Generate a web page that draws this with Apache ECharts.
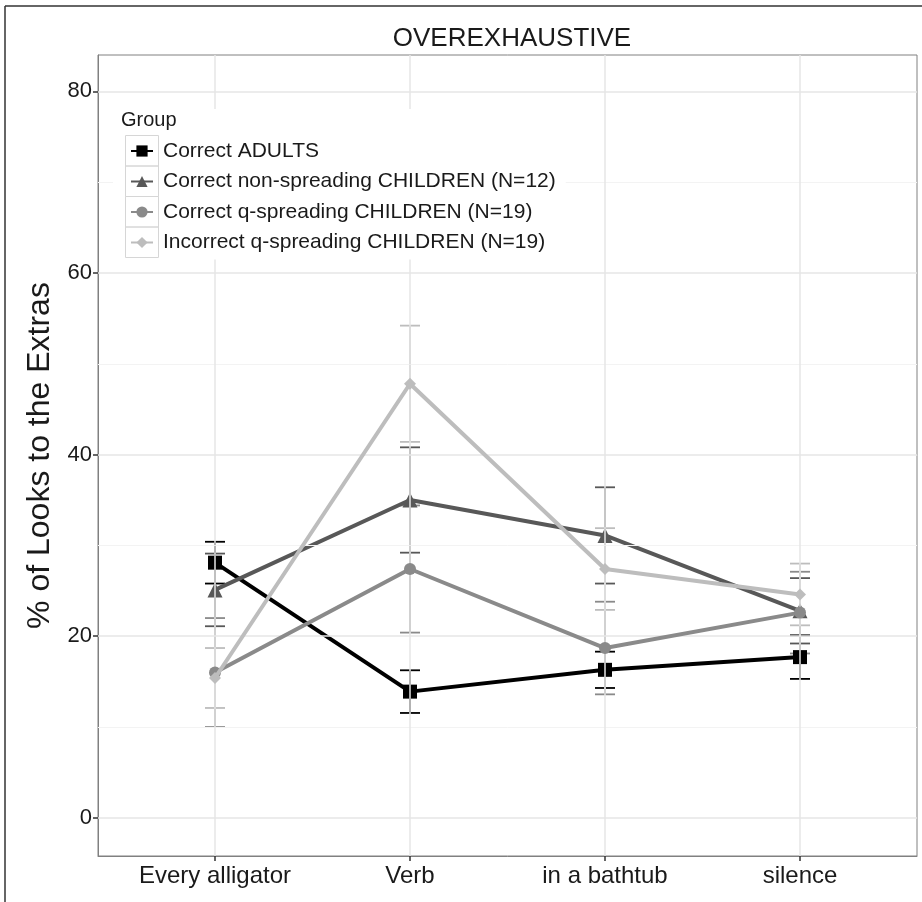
<!DOCTYPE html>
<html>
<head>
<meta charset="utf-8">
<script src="https://cdn.jsdelivr.net/npm/echarts@6/dist/echarts.min.js"></script>
<style>
html,body{margin:0;padding:0;background:#fff;}
#chart{width:922px;height:902px;}
</style>
</head>
<body>
<div id="chart"></div>
<script>
// ---- data ----
const categories = ['Every alligator', 'Verb', 'in a bathtub', 'silence'];
const groupNames = ['Correct ADULTS', 'Correct non-spreading CHILDREN (N=12)', 'Correct q-spreading CHILDREN (N=19)', 'Incorrect q-spreading CHILDREN (N=19)'];
const adultsMean = [28.1, 13.9, 16.3, 17.7];
const adultsSE = [2.3, 2.35, 2.0, 2.4];
const nonSpreadMean = [25.1, 35.0, 31.1, 22.8];
const nonSpreadSE = [4.0, 5.8, 5.3, 3.6];
const qSpreadMean = [16.0, 27.4, 18.7, 22.6];
const qSpreadSE = [6.0, 7.0, 5.1, 4.5];
const incorrectMean = [15.4, 47.8, 27.4, 24.6];
const incorrectSE = [3.3, 6.4, 4.5, 3.4];
const yTicks = [0, 20, 40, 60, 80];
const yMinorTicks = [10, 30, 50, 70];

// ---- styles ----
const colors = ['#000000', '#585858', '#8a8a8a', '#bdbdbd'];
const symbols = ['rect', 'triangle', 'circle', 'diamond'];
const symSizes = [14, 15, 12, 12];
const means = [adultsMean, nonSpreadMean, qSpreadMean, incorrectMean];
const ses = [adultsSE, nonSpreadSE, qSpreadSE, incorrectSE];
const FONT = 'Liberation Sans, Arial, sans-serif';

const chart = echarts.init(document.getElementById('chart'));

const series = [];
// grid lines (drawn via markLine so they sit at exact values)
series.push({
  type: 'line', data: [[1, 0]], showSymbol: false, symbol: 'none',
  lineStyle: { opacity: 0 }, silent: true, z: 1, legendHoverLink: false,
  markLine: {
    silent: true, symbol: 'none', label: { show: false }, animation: false,
    data: [
      ...yMinorTicks.map(v => ({ yAxis: v, lineStyle: { color: '#f3f3f3', width: 1, type: 'solid' } })),
      ...yTicks.map(v => ({ yAxis: v, lineStyle: { color: '#e6e6e6', width: 1.5, type: 'solid' } })),
      ...categories.map((c, i) => ({ xAxis: i + 1, lineStyle: { color: '#e6e6e6', width: 1.5, type: 'solid' } }))
    ]
  }
});
// error bars
means.forEach((m, g) => {
  series.push({
    type: 'custom', name: groupNames[g] + ' err', silent: true, z: 2,
    data: m.map((v, i) => [i + 1, v - ses[g][i], v + ses[g][i]]),
    renderItem: function (params, api) {
      const x = api.value(0);
      const lo = api.coord([x, api.value(1)]);
      const hi = api.coord([x, api.value(2)]);
      const hw = 10;
      const st = { stroke: colors[g], lineWidth: 1.8 };
      return {
        type: 'group',
        children: [
          { type: 'line', shape: { x1: lo[0], y1: lo[1], x2: hi[0], y2: hi[1] }, style: st },
          { type: 'line', shape: { x1: lo[0] - hw, y1: lo[1], x2: lo[0] + hw, y2: lo[1] }, style: st },
          { type: 'line', shape: { x1: hi[0] - hw, y1: hi[1], x2: hi[0] + hw, y2: hi[1] }, style: st }
        ]
      };
    },
    encode: { x: 0, y: [1, 2] }
  });
});
// lines + points
means.forEach((m, g) => {
  series.push({
    type: 'line', name: groupNames[g], z: 3 + g,
    data: m.map((v, i) => [i + 1, v]),
    symbol: symbols[g], symbolSize: symSizes[g], showAllSymbol: true,
    lineStyle: { color: colors[g], width: 4 },
    itemStyle: { color: colors[g] },
    emphasis: { disabled: true }
  });
});

const legendBoxes = groupNames.map((n, i) => ({
  type: 'rect', left: 125, top: 135 + i * 30.5, z: 20,
  shape: { width: 33, height: 30.5 },
  style: { fill: 'transparent', stroke: '#d6d6d6', lineWidth: 1 }
}));

chart.setOption({
  animation: false,
  backgroundColor: '#ffffff',
  title: [
    { text: 'OVEREXHAUSTIVE', left: 507, top: 21, textAlign: 'center',
      textStyle: { fontFamily: FONT, fontSize: 26, fontWeight: 'normal', color: '#1a1a1a' } },
    { text: 'Group', left: 116, top: 105, z: 30,
      textStyle: { fontFamily: FONT, fontSize: 20, fontWeight: 'normal', color: '#1a1a1a' } }
  ],
  grid: { left: 98, right: 5, top: 55, bottom: 46, show: true, borderColor: '#808080', borderWidth: 1, backgroundColor: 'transparent' },
  xAxis: {
    type: 'value', min: 0.4, max: 4.6,
    axisLine: { show: true, onZero: false, lineStyle: { color: '#808080', width: 1 } },
    axisTick: { show: true, customValues: [1, 2, 3, 4], length: 5, lineStyle: { color: '#333', width: 1.5 } },
    axisLabel: { customValues: [1, 2, 3, 4], formatter: v => categories[Math.round(v) - 1], fontFamily: FONT, fontSize: 24, color: '#1a1a1a', margin: 8 },
    splitLine: { show: false }
  },
  yAxis: {
    type: 'value', min: -4.2, max: 84,
    name: '% of Looks to the Extras', nameLocation: 'middle', nameGap: 42, nameRotate: 90,
    nameTextStyle: { fontFamily: FONT, fontSize: 32, color: '#1a1a1a' },
    axisLine: { show: true, onZero: false, lineStyle: { color: '#808080', width: 1 } },
    axisTick: { show: true, customValues: yTicks, length: 5, lineStyle: { color: '#333', width: 1.5 } },
    axisLabel: { customValues: yTicks, fontFamily: FONT, fontSize: 22, color: '#1a1a1a', margin: 6 },
    splitLine: { show: false }
  },
  legend: {
    orient: 'vertical', left: 113, top: 109,
    padding: [31, 10, 6, 17],
    backgroundColor: '#ffffff', z: 10,
    data: groupNames, itemWidth: 22, itemHeight: 14, itemGap: 8.5,
    textStyle: { fontFamily: FONT, fontSize: 21, lineHeight: 22, color: '#1a1a1a', padding: [0, 0, 0, 5] },
    selectedMode: false
  },
  graphic: [
    ...legendBoxes,
    { type: 'line', shape: { x1: 5, y1: 6, x2: 5, y2: 902 }, style: { stroke: '#333', lineWidth: 1.5 } },
    { type: 'line', shape: { x1: 5, y1: 6, x2: 922, y2: 6 }, style: { stroke: '#333', lineWidth: 1.5 } }
  ],
  series: series
});
</script>
</body>
</html>
